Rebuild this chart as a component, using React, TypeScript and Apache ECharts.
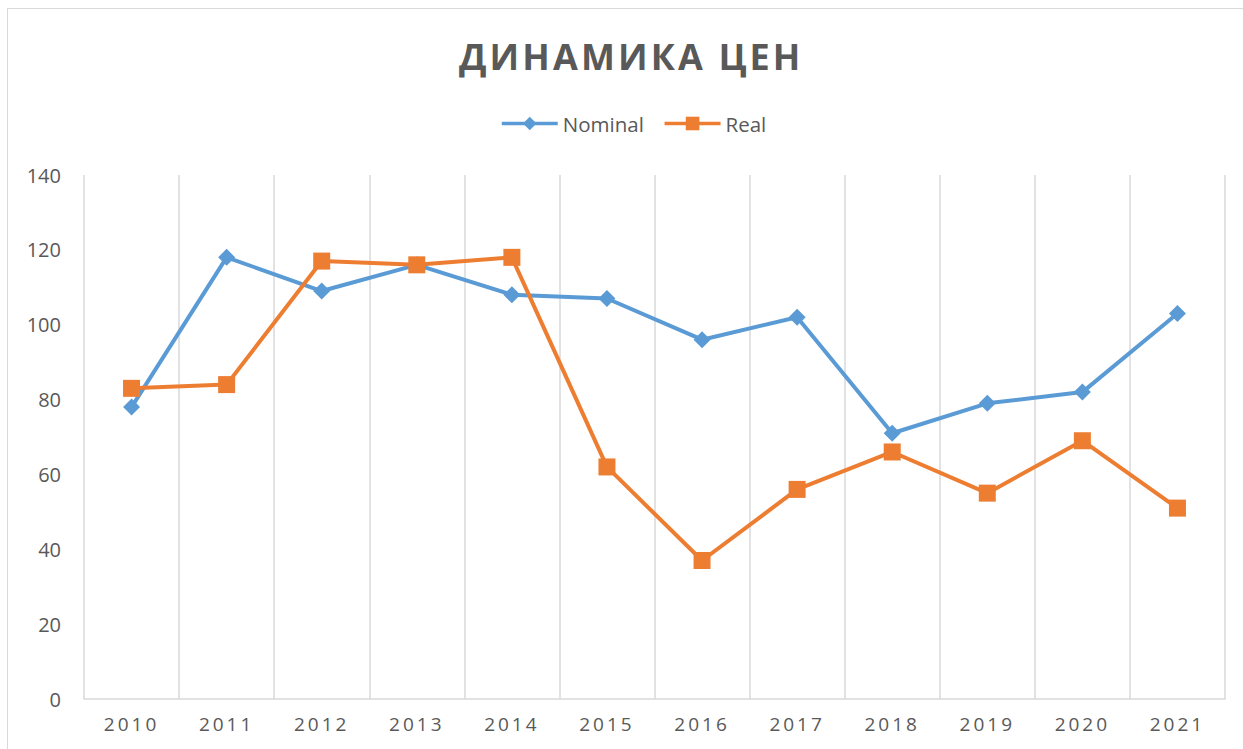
import React, { useEffect, useRef } from "react";
import * as echarts from "echarts";

const titleText = "ДИНАМИКА ЦЕН";
const years = ["2010", "2011", "2012", "2013", "2014", "2015", "2016", "2017", "2018", "2019", "2020", "2021"];
const nominal = [78, 118, 109, 116, 108, 107, 96, 102, 71, 79, 82, 103];
const real = [83, 84, 117, 116, 118, 62, 37, 56, 66, 55, 69, 51];
const seriesNames = ["Nominal", "Real"];

const BLUE = "#5B9BD5";
const ORANGE = "#ED7D31";
const TEXT = "#595959";
const GRID = "#d9d9d9";
const PLAIN = "'Open Sans', sans-serif";
const SPACED = "'Open Sans', 'DejaVu Sans'";
const TITLEFONT = "'Open Sans', 'Liberation Sans'";

export default function App() {
  const ref = useRef<HTMLDivElement>(null);
  useEffect(() => {
    if (!ref.current) return;
    const chart = echarts.init(ref.current, undefined, { renderer: "svg" });
    chart.setOption({
      animation: false,
      backgroundColor: "transparent",
      title: {
        text: titleText,
        left: 454,
        top: 33,
        textStyle: { fontFamily: TITLEFONT, fontSize: 36, fontWeight: "bold", color: TEXT },
      },
      legend: {
        top: 108,
        left: 495,
        itemWidth: 56,
        itemHeight: 17,
        itemGap: 19,
        lineStyle: { width: 3.5 },
        textStyle: { fontFamily: PLAIN, fontSize: 20.5, color: TEXT },
        data: seriesNames,
      },
      grid: { left: 84, right: 18, top: 175, bottom: 50, containLabel: false },
      xAxis: {
        type: "category",
        data: years,
        boundaryGap: true,
        axisTick: { show: false },
        axisLine: { lineStyle: { color: GRID, width: 1.5 } },
        splitLine: { show: true, interval: 0, lineStyle: { color: GRID, width: 1.5 } },
        axisLabel: { fontFamily: SPACED, fontSize: 19, color: TEXT, margin: 15, interval: 0 },
      },
      yAxis: {
        type: "value",
        min: 0,
        max: 140,
        interval: 20,
        axisLine: { show: false },
        axisTick: { show: false },
        splitLine: { show: false },
        axisLabel: { fontFamily: PLAIN, fontSize: 20, color: TEXT, margin: 23 },
      },
      series: [
        {
          name: seriesNames[0],
          type: "line",
          data: nominal,
          symbol: "diamond",
          symbolSize: 17,
          itemStyle: { color: BLUE },
          lineStyle: { color: BLUE, width: 4 },
        },
        {
          name: seriesNames[1],
          type: "line",
          data: real,
          symbol: "rect",
          symbolSize: 17,
          itemStyle: { color: ORANGE },
          lineStyle: { color: ORANGE, width: 4 },
        },
      ],
    });
    return () => chart.dispose();
  }, []);

  return (
    <div style={{ position: "fixed", left: 0, top: 0, width: 1243, height: 749, overflow: "hidden", background: "#fff" }}>
      <style>{`text[style*="DejaVu"], text[font-family*="DejaVu"] { letter-spacing: 3px; }
text[style*="Liberation"], text[font-family*="Liberation"] { letter-spacing: 3.1px; }`}</style>
      <div
        style={{
          position: "absolute",
          left: 7,
          top: 8,
          width: 1300,
          height: 800,
          border: "1.5px solid #d9d9d9",
          boxSizing: "border-box",
        }}
      />
      <div ref={ref} style={{ position: "absolute", left: 0, top: 0, width: 1243, height: 749 }} />
    </div>
  );
}
